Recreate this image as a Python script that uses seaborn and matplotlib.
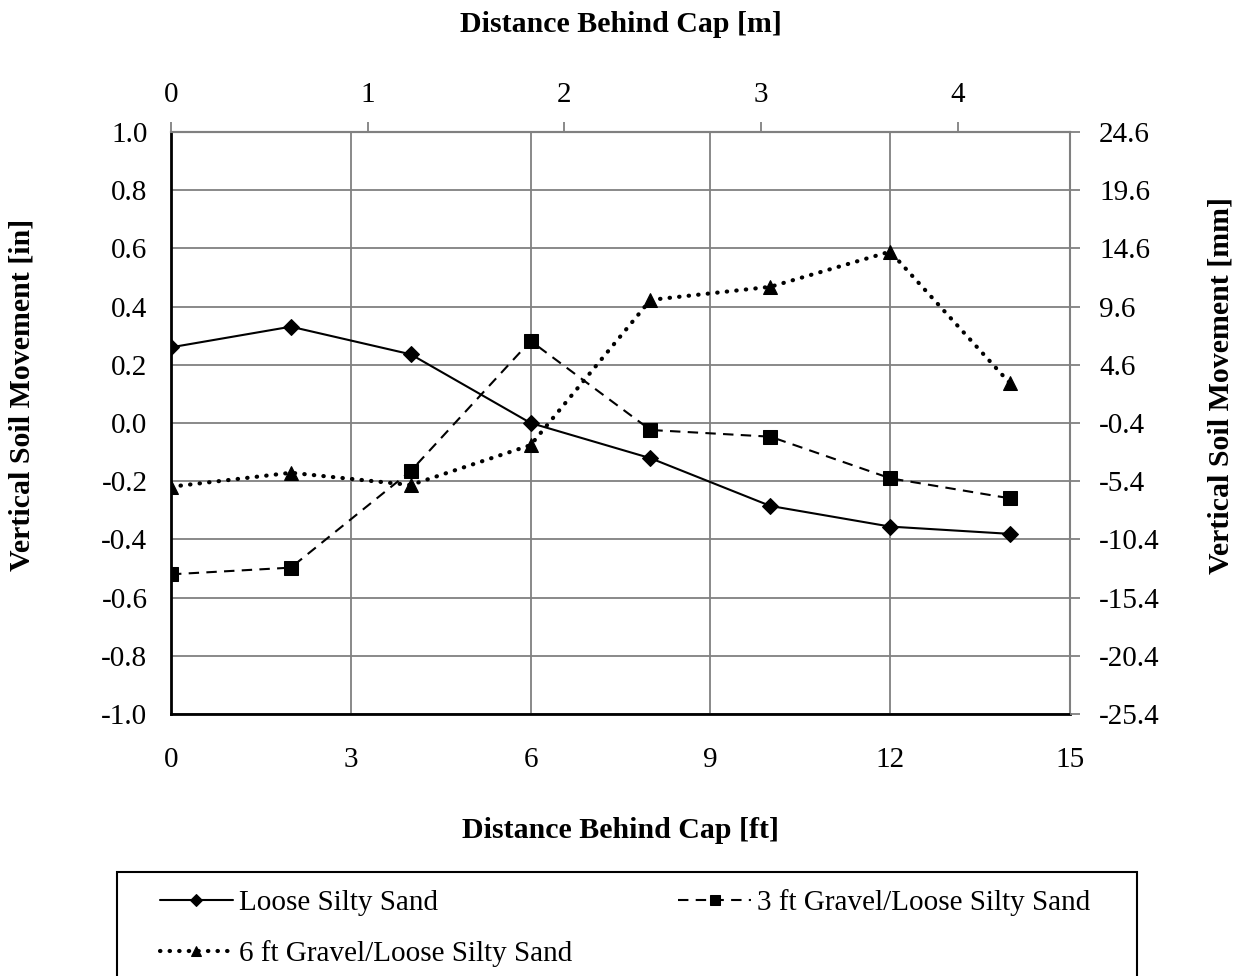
import numpy as np
import pandas as pd
import matplotlib
matplotlib.use("Agg")
import matplotlib.pyplot as plt
from matplotlib.patches import Rectangle
import seaborn as sns

# Measured vertical soil movement behind the pile cap
distance_ft = [0, 2, 4, 6, 8, 10, 12, 14]
loose_silty_sand = [0.26, 0.331, 0.236, 0.0, -0.121, -0.285, -0.356, -0.381]
gravel_3ft = [-0.52, -0.497, -0.165, 0.282, -0.024, -0.047, -0.19, -0.259]
gravel_6ft = [-0.219, -0.171, -0.213, -0.076, 0.423, 0.468, 0.589, 0.136]

series_names = ["Loose Silty Sand", "3 ft Gravel/Loose Silty Sand",
                "6 ft Gravel/Loose Silty Sand"]

left_ticks = [-1.0, -0.8, -0.6, -0.4, -0.2, 0.0, 0.2, 0.4, 0.6, 0.8, 1.0]
right_tick_labels = ["-25.4", "-20.4", "-15.4", "-10.4", "-5.4", "-0.4",
                     "4.6", "9.6", "14.6", "19.6", "24.6"]
bottom_ticks = [0, 3, 6, 9, 12, 15]
top_ticks_m = [0, 1, 2, 3, 4]

sns.set_theme(style="white")
plt.rcParams["font.family"] = ["Liberation Serif", "DejaVu Serif"]
plt.rcParams.update({"text.color": "black", "axes.labelcolor": "black",
                     "xtick.color": "black", "ytick.color": "black"})

TICK_FS = 21
LABEL_FS = 21.5

df = pd.DataFrame({
    "distance": distance_ft * 3,
    "movement": loose_silty_sand + gravel_3ft + gravel_6ft,
    "series": np.repeat(series_names, len(distance_ft)),
})

W, H = 1246, 976
fig = plt.figure(figsize=(W / 100, H / 100), dpi=100)
ax = fig.add_axes([171 / W, 1 - 714 / H, (1070 - 171) / W, (714 - 132) / H])

styles = {
    "Loose Silty Sand": dict(marker="D", markersize=8.5, linestyle="-", linewidth=1.5),
    "3 ft Gravel/Loose Silty Sand": dict(marker="s", markersize=10,
                                         linestyle=(0, (5, 3.5)), linewidth=1.5),
    "6 ft Gravel/Loose Silty Sand": dict(marker="^", markersize=10,
                                         linestyle=(0, (0.1, 2.2)), linewidth=3,
                                         dash_capstyle="round"),
}

for name in series_names:
    sub = df[df["series"] == name]
    sns.lineplot(data=sub, x="distance", y="movement", ax=ax, color="black",
                 markeredgecolor="black", label=name, legend=False,
                 zorder=3, **styles[name])

ax.set_xlim(0, 15)
ax.set_ylim(-1.0, 1.0)
ax.set_xticks(bottom_ticks)
ax.set_yticks(left_ticks)
ax.set_yticklabels([f"{v:.1f}" for v in left_ticks])
ax.grid(True, color="#808080", linewidth=1.3)
ax.tick_params(axis="y", length=0, labelsize=TICK_FS, pad=17)
ax.tick_params(axis="x", length=0, labelsize=TICK_FS, pad=24)
ax.set_xlabel("Distance Behind Cap [ft]", fontsize=LABEL_FS, fontweight="bold")
ax.set_ylabel("Vertical Soil Movement [in]", fontsize=LABEL_FS, fontweight="bold")
ax.xaxis.set_label_coords(0.5, (714 - 830) / 582)
ax.xaxis.label.set_va("center")
ax.yaxis.set_label_coords((22 - 171) / 899, (714 - 395) / 582)
ax.yaxis.label.set_va("center")

for side in ["left", "bottom"]:
    ax.spines[side].set_color("black")
    ax.spines[side].set_linewidth(2)
for side in ["top", "right"]:
    ax.spines[side].set_color("#808080")
    ax.spines[side].set_linewidth(1.5)

# Right axis in millimetres
ax_r = ax.twinx()
ax_r.set_ylim(-1.0, 1.0)
ax_r.set_yticks(left_ticks)
ax_r.set_yticklabels(right_tick_labels)
ax_r.tick_params(axis="y", length=7, width=1.3, color="#808080",
                 labelcolor="black", labelsize=TICK_FS, pad=14)
ax_r.set_ylabel("Vertical Soil Movement [mm]", fontsize=LABEL_FS, fontweight="bold")
ax_r.yaxis.set_label_coords((1221 - 171) / 899, (714 - 385) / 582)
ax_r.yaxis.label.set_va("center")
for sp in ax_r.spines.values():
    sp.set_visible(False)

# Top axis in metres
ax_t = ax.secondary_xaxis("top", functions=(lambda x: x * 0.3048, lambda m: m / 0.3048))
ax_t.set_xticks(top_ticks_m)
ax_t.tick_params(axis="x", length=7, width=1.3, color="#808080",
                 labelcolor="black", labelsize=TICK_FS, pad=10)
ax_t.spines["top"].set_color("#808080")
ax_t.spines["top"].set_linewidth(1.5)
ax_t.set_xlabel("Distance Behind Cap [m]", fontsize=LABEL_FS, fontweight="bold")
ax_t.xaxis.set_label_coords(0.5, (714 - 24) / 582, transform=ax.transAxes)
ax_t.xaxis.label.set_va("center")

# Legend: two columns inside a plain rectangular frame
handles, labels = ax.get_legend_handles_labels()
order = [0, 2, 1]
leg = fig.legend([handles[i] for i in order], [labels[i] for i in order],
                 loc="upper left", ncol=2,
                 bbox_to_anchor=(160 / W, 1 - 889 / H),
                 fontsize=TICK_FS, frameon=False,
                 handlelength=2.5, handletextpad=0.2, markerscale=0.75,
                 labelspacing=0.82, columnspacing=3.65,
                 borderpad=0, borderaxespad=0)
fig.add_artist(Rectangle((117 / W, -0.02), (1137 - 117) / W, (976 - 872) / H + 0.02,
                         transform=fig.transFigure, fill=False,
                         edgecolor="black", linewidth=1.5))

fig.savefig("out.png", dpi=100, facecolor="white")
